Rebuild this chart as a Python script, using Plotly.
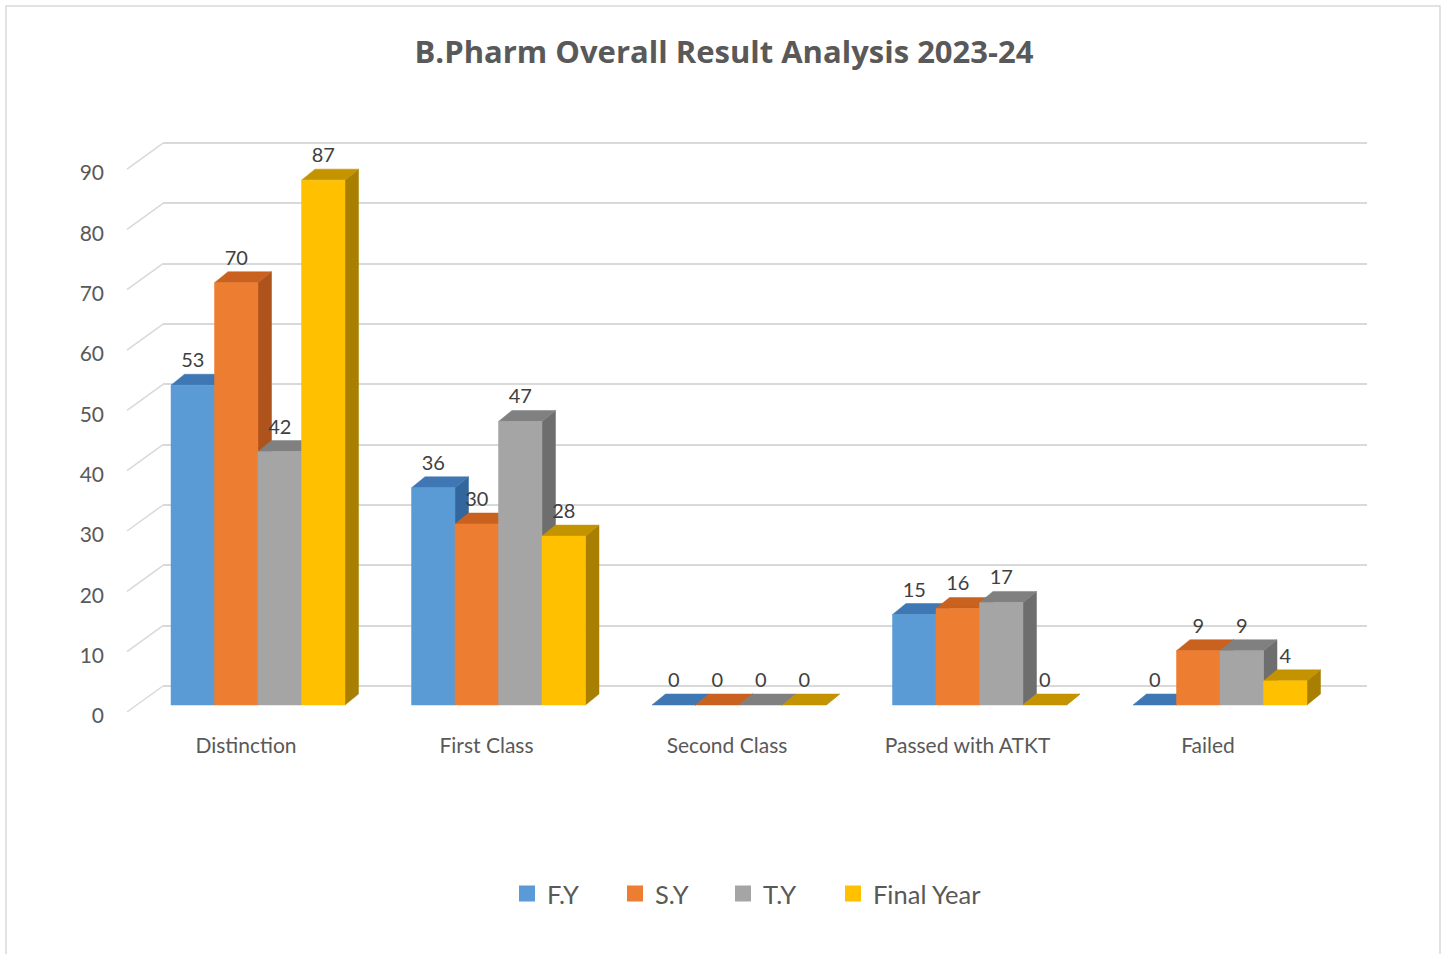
import plotly.graph_objects as go

# ---------------- data ----------------
categories = ["Distinction", "First Class", "Second Class", "Passed with ATKT", "Failed"]
series_names = ["F.Y", "S.Y", "T.Y", "Final Year"]
fy = [53, 36, 0, 15, 0]
sy = [70, 30, 0, 16, 9]
ty = [42, 47, 0, 17, 9]
final_year = [87, 28, 0, 0, 4]
y_ticks = [0, 10, 20, 30, 40, 50, 60, 70, 80, 90]
title_text = "B.Pharm Overall Result Analysis 2023-24"

series_values = [fy, sy, ty, final_year]

# ---------------- style ----------------
front_colors = ["#5B9BD5", "#ED7D31", "#A5A5A5", "#FFC000"]
top_colors = ["#3E77B3", "#C9611F", "#808080", "#C49300"]
side_colors = ["#33669C", "#AE531B", "#6E6E6E", "#A87F00"]
FONT = "Lato"
TEXT_COLOR = "#595959"
GRID_COLOR = "#D9D9D9"

W, H = 1448, 954
PX_PER_UNIT = 60.33 / 10.0      # vertical pixels per value unit
BASE_PX = 705                   # pixel row of value 0 on front plane
WALL_BASE_PX = 686              # pixel row of value 0 on back wall
LABEL_BASE_PX = 714             # pixel row of tick label "0"
GROUP0_PX = 258                 # pixel column of first group centre
CAT_PX = 240.5                  # pixels between categories
BAR_PX = 43.5                   # bar width in pixels
DEPTH_DX_PX = 13.5
DEPTH_DY_PX = 11.0
WALL_X0_PX, WALL_X1_PX = 163, 1367
SIDE_X0_PX = 127
LEGEND_MARKER_PX = [529, 637, 745, 855]
LEGEND_Y_PX = 894

bw = BAR_PX / CAT_PX
ddx = DEPTH_DX_PX / CAT_PX
ddy = DEPTH_DY_PX / PX_PER_UNIT
n_series = len(series_values)

x_range = [-GROUP0_PX / CAT_PX, (W - GROUP0_PX) / CAT_PX]
y_range = [(BASE_PX - H) / PX_PER_UNIT, BASE_PX / PX_PER_UNIT]
wall_y_range = [(WALL_BASE_PX - H) / PX_PER_UNIT, WALL_BASE_PX / PX_PER_UNIT]

fig = go.Figure()

# invisible trace so the wall subplot (x/y) exists; bars live on x2/y2 (drawn above)
fig.add_trace(go.Scatter(x=[0], y=[0], xaxis="x", yaxis="y", mode="markers",
                         marker=dict(opacity=0), showlegend=False, hoverinfo="skip"))

label_traces = []
for j, vals in enumerate(series_values):
    side_x, side_y, top_x, top_y, front_x, front_y = [], [], [], [], [], []
    cx, cy, ct = [], [], []
    for i, v in enumerate(vals):
        x0 = i + (j - n_series / 2) * bw
        x1 = x0 + bw
        side_x += [x1, x1, x1 + ddx, x1 + ddx, x1, None]
        side_y += [0, v, v + ddy, ddy, 0, None]
        top_x += [x0, x1, x1 + ddx, x0 + ddx, x0, None]
        top_y += [v, v, v + ddy, v + ddy, v, None]
        if v > 0:
            front_x += [x0, x1, x1, x0, x0, None]
            front_y += [0, 0, v, v, 0, None]
        cx.append((x0 + x1) / 2)
        cy.append(v + 23 / PX_PER_UNIT)
        ct.append(str(v))
    fig.add_trace(go.Scatter(x=side_x, y=side_y, xaxis="x2", yaxis="y2", fill="toself",
                             fillcolor=side_colors[j], mode="lines",
                             line=dict(width=0.5, color=side_colors[j]),
                             showlegend=False, hoverinfo="skip"))
    fig.add_trace(go.Scatter(x=top_x, y=top_y, xaxis="x2", yaxis="y2", fill="toself",
                             fillcolor=top_colors[j], mode="lines",
                             line=dict(width=0.5, color=top_colors[j]),
                             showlegend=False, hoverinfo="skip"))
    if front_x:
        fig.add_trace(go.Scatter(x=front_x, y=front_y, xaxis="x2", yaxis="y2", fill="toself",
                                 fillcolor=front_colors[j], mode="lines",
                                 line=dict(width=0.5, color=front_colors[j]),
                                 showlegend=False, name=series_names[j]))
    label_traces.append(go.Scatter(x=cx, y=cy, xaxis="x2", yaxis="y2", mode="text", text=ct,
                                   textfont=dict(family=FONT, size=20, color="#404040"),
                                   showlegend=False, hoverinfo="skip"))

for tr in label_traces:
    fig.add_trace(tr)

# legend entries (one legend per entry for exact spacing)
legend_ids = ["legend", "legend2", "legend3", "legend4"]
for j, name in enumerate(series_names):
    fig.add_trace(go.Scatter(x=[None], y=[None], xaxis="x2", yaxis="y2", mode="markers",
                             name=name, legend=legend_ids[j],
                             marker=dict(symbol="square", size=16, color=front_colors[j])))

legend_layout = {}
for j, lid in enumerate(legend_ids):
    legend_layout[lid] = dict(
        x=(LEGEND_MARKER_PX[j] - 22) / W, xanchor="left",
        y=(H - LEGEND_Y_PX) / H, yanchor="middle",
        font=dict(family=FONT, size=25.5, color=TEXT_COLOR),
        itemwidth=30, bgcolor="rgba(0,0,0,0)", borderwidth=0)

# left side-wall diagonals
shapes = []
for t in y_ticks:
    shapes.append(dict(type="line", xref="paper", yref="y",
                       x0=SIDE_X0_PX / W, y0=t - (LABEL_BASE_PX - 2 - WALL_BASE_PX) / PX_PER_UNIT,
                       x1=WALL_X0_PX / W, y1=t,
                       line=dict(color=GRID_COLOR, width=1.5), layer="below"))
shapes.append(dict(type="rect", xref="paper", yref="paper",
                   x0=6 / W, x1=1440 / W, y0=-0.05, y1=(H - 6) / H,
                   line=dict(color=GRID_COLOR, width=1.5), fillcolor="rgba(0,0,0,0)", layer="below"))

fig.update_layout(
    width=W, height=H,
    margin=dict(l=0, r=0, t=0, b=0),
    paper_bgcolor="white", plot_bgcolor="rgba(0,0,0,0)",
    title=dict(text=title_text, x=0.5, xanchor="center", y=1 - 52 / H, yanchor="middle",
               font=dict(family="Open Sans", size=31, color=TEXT_COLOR, weight="bold")),
    # back wall (gridlines + value labels)
    xaxis=dict(range=[0, 1], domain=[WALL_X0_PX / W, WALL_X1_PX / W], visible=False,
               anchor="y", fixedrange=True),
    yaxis=dict(range=wall_y_range, domain=[0, 1], anchor="x", tickvals=y_ticks,
               showgrid=True, gridcolor=GRID_COLOR, gridwidth=2, zeroline=False,
               showline=False, ticks="", ticklabelstandoff=58,
               ticklabelshift=(LABEL_BASE_PX + 2 - WALL_BASE_PX),
               tickfont=dict(family=FONT, size=21, color=TEXT_COLOR), fixedrange=True),
    # front plane (bars + category labels)
    xaxis2=dict(range=x_range, domain=[0, 1], showgrid=False, zeroline=False, showline=False,
                tickvals=[i - 12 / CAT_PX for i in range(len(categories))], ticktext=categories,
                ticks="", anchor="free", position=(H - 731) / H,
                tickfont=dict(family=FONT, size=21, color=TEXT_COLOR), fixedrange=True),
    yaxis2=dict(range=y_range, domain=[0, 1], anchor="x2", visible=False, fixedrange=True),
    shapes=shapes,
    showlegend=True,
    **legend_layout,
)

fig.write_html("out.html", config={"displayModeBar": False},
               post_script="document.body.style.margin='0';")
